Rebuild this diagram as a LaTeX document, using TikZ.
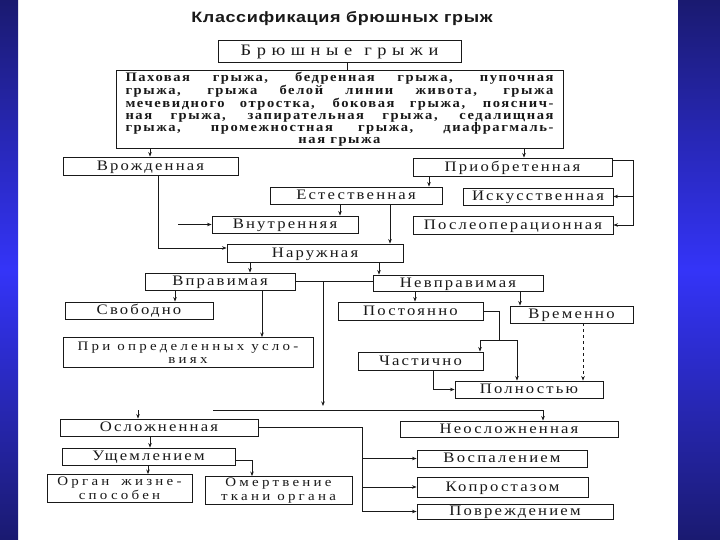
\documentclass[tikz,border=0pt]{standalone}
\usepackage{fontspec}
\setmainfont{Liberation Serif}
\newfontfamily\boxfont{Liberation Serif}[FakeStretch=1.15,LetterSpace=15]
\newfontfamily\boxfontb{Liberation Serif}[FakeStretch=1.15,LetterSpace=25]
\newfontfamily\bigfont{Liberation Serif}[FakeStretch=1.12,LetterSpace=12]
\newfontfamily\titlefont{Liberation Sans}[FakeStretch=1.2,LetterSpace=4]
\newfontfamily\headfont{Liberation Serif}[FakeStretch=1.15,LetterSpace=35]
\usetikzlibrary{arrows.meta}
\definecolor{banddark}{RGB}{26,26,112}
\definecolor{bandlight}{RGB}{52,52,248}
\definecolor{ink}{RGB}{25,25,25}
\begin{document}
\begin{tikzpicture}[x=1pt,y=-1pt,
  box/.style={draw=ink, line width=0.9pt, inner sep=0pt, text=ink,
    text height=10.5pt, text depth=2pt,
    font=\boxfont\fontsize{14.5}{12}\selectfont},
  box2/.style={box, text height=, text depth=, align=center,
    font=\boxfontb\fontsize{13}{13.5}\selectfont},
  conn/.style={draw=ink, line width=0.75pt},
  arr/.style={conn, -{Stealth[length=4.5pt,width=3.5pt]}}
]
\useasboundingbox (0,0) rectangle (720,540);
\fill[white] (0,0) rectangle (720,540);
\shade[top color=banddark, bottom color=banddark, middle color=bandlight] (0,0) rectangle (18,540);
\shade[top color=banddark, bottom color=banddark, middle color=bandlight] (678,0) rectangle (720,540);

% title
\node[text=ink, font=\titlefont\bfseries\fontsize{15}{15}\selectfont] (title) at (342,19) {Классификация брюшных грыж};

% boxes
\node[box, minimum width=243pt, minimum height=22pt, font=\headfont\fontsize{16}{16}\selectfont,
  text height=11.5pt, text depth=2.5pt] (bg) at (339.5,51) {Брюшные\hspace{12pt}грыжи};
\node[box2, minimum width=447pt, minimum height=78pt, font=\bigfont\bfseries\fontsize{13}{12}\selectfont] (big) at (339.5,109)
 {\makebox[428pt][s]{Паховая грыжа, бедренная грыжа, пупочная}\\
  \makebox[428pt][s]{грыжа, грыжа белой линии живота, грыжа}\\
  \makebox[428pt][s]{мечевидного отростка, боковая грыжа, пояснич-}\\
  \makebox[428pt][s]{ная грыжа, запирательная грыжа, седалищная}\\
  \makebox[428pt][s]{грыжа, промежностная грыжа, диафрагмаль-}\\
  ная грыжа};
\node[box, minimum width=175pt, minimum height=18pt] (vr) at (150.5,166) {Врожденная};
\node[box, minimum width=199pt, minimum height=18pt] (pr) at (512.5,167) {Приобретенная};
\node[box, minimum width=172pt, minimum height=17pt] (es) at (356,195.5) {Естественная};
\node[box, minimum width=150pt, minimum height=17pt] (isk) at (538,196.5) {Искусственная};
\node[box, minimum width=146pt, minimum height=17pt] (vn) at (285,224.5) {Внутренняя};
\node[box, minimum width=200pt, minimum height=18pt] (po) at (513,225) {Послеоперационная};
\node[box, minimum width=176pt, minimum height=18pt] (na) at (315,253) {Наружная};
\node[box, minimum width=150pt, minimum height=17pt] (vp) at (220,281.5) {Вправимая};
\node[box, minimum width=170pt, minimum height=16pt] (nv) at (458,283) {Невправимая};
\node[box, minimum width=148pt, minimum height=17pt] (sv) at (139,310.5) {Свободно};
\node[box2, minimum width=250pt, minimum height=30pt] (pu) at (188,352.5) {При определенных усло-\\виях};
\node[box, minimum width=145pt, minimum height=18pt] (pt) at (410.5,311) {Постоянно};
\node[box, minimum width=123pt, minimum height=17pt] (vm) at (571.5,314.5) {Временно};
\node[box, minimum width=125pt, minimum height=18pt] (ch) at (420.5,361) {Частично};
\node[box, minimum width=148pt, minimum height=17pt] (pl) at (529,389.5) {Полностью};
\node[box, minimum width=198pt, minimum height=17pt] (os) at (159,427.5) {Осложненная};
\node[box, minimum width=218pt, minimum height=16pt] (nos) at (509,429) {Неосложненная};
\node[box, minimum width=173pt, minimum height=17pt] (us) at (148.5,456.5) {Ущемлением};
\node[box2, minimum width=145pt, minimum height=28pt] (og) at (119.5,488.5) {Орган\hspace{12pt}жизне-\\способен};
\node[box2, minimum width=147pt, minimum height=28pt] (om) at (278.5,490.5) {Омертвение\\ткани органа};
\node[box, minimum width=170pt, minimum height=17pt] (vs) at (502,458.5) {Воспалением};
\node[box, minimum width=171pt, minimum height=20pt] (kp) at (502.5,487) {Копростазом};
\node[box, minimum width=196pt, minimum height=15pt] (pv) at (515,511.5) {Повреждением};

% helper x positions
\coordinate (x347) at (347,0);
\coordinate (x150) at (150,0);
\coordinate (x524) at (524,0);
\coordinate (x429) at (429,0);
\coordinate (x633) at (633,160);
\coordinate (x340) at (340,0);
\coordinate (x390) at (390,0);
\coordinate (x158) at (158,0);
\coordinate (vnin) at (178,0);
\coordinate (x250) at (250,0);
\coordinate (x379) at (379,0);
\coordinate (x323) at (323,0);
\coordinate (d323) at (323,406);
\coordinate (busL) at (213,410);
\coordinate (busR) at (543,410);
\coordinate (osin) at (138,410);
\coordinate (x175) at (175,0);
\coordinate (x262) at (262,0);
\coordinate (x415) at (415,0);
\coordinate (x520) at (520,0);
\coordinate (j1) at (499,340);
\coordinate (x480) at (480,0);
\coordinate (x517) at (517,0);
\coordinate (x433) at (433,0);
\coordinate (x583) at (583,0);
\coordinate (x362) at (362,0);
\coordinate (x252) at (252,0);
\coordinate (x148) at (148,0);

% connectors
\draw[conn] (bg.south -| x347) -- (big.north -| x347);
\draw[arr] (big.south -| x150) -- (vr.north -| x150);
\draw[arr] (big.south -| x524) -- (pr.north -| x524);
\draw[arr] (pr.south -| x429) -- (es.north -| x429);
\draw[arr] (pr.north east |- x633) -- (x633) |- (po.east);
\draw[arr] (isk.east -| x633) -- (isk.east);
\draw[arr] (es.south -| x340) -- (vn.north -| x340);
\draw[arr] (es.south -| x390) -- (na.north -| x390);
\draw[arr] (vr.south -| x158) |- ([yshift=5pt]na.west);
\draw[arr] (vn.west -| vnin) -- (vn.west);
\draw[arr] (na.south -| x250) -- (vp.north -| x250);
\draw[arr] (na.south -| x379) -- (nv.north -| x379);
\draw[conn] (vp.east) -- (vp.east -| nv.west);
\draw[arr] (vp.east -| x323) -- (d323);
\draw[conn] (busL) -- (busR);
\draw[arr] (busR) -- (nos.north -| busR);
\draw[arr] (osin) -- (os.north -| osin);
\draw[arr] (vp.south -| x175) -- (sv.north -| x175);
\draw[arr] (vp.south -| x262) -- (pu.north -| x262);
\draw[arr] (nv.south -| x415) -- (pt.north -| x415);
\draw[arr] (nv.south -| x520) -- (vm.north -| x520);
\draw[conn] (pt.east) -| (j1);
\draw[arr] (j1) -| (ch.north -| x480);
\draw[arr] (j1) -| (pl.north -| x517);
\draw[arr] (ch.south -| x433) |- (pl.west);
\draw[arr, dashed] (vm.south -| x583) -- (pl.north -| x583);
\draw[arr] (os.south -| x150) -- (us.north -| x150);
\draw[conn] (os.east) -- (os.east -| x362) -- (pv.west -| x362);
\draw[arr] (vs.west -| x362) -- (vs.west);
\draw[arr] (kp.west -| x362) -- (kp.west);
\draw[arr] (pv.west -| x362) -- (pv.west);
\draw[arr] ([yshift=-4pt]us.east) -| (om.north -| x252);
\draw[arr] (us.south -| x148) -- (og.north -| x148);
\end{tikzpicture}
\end{document}
